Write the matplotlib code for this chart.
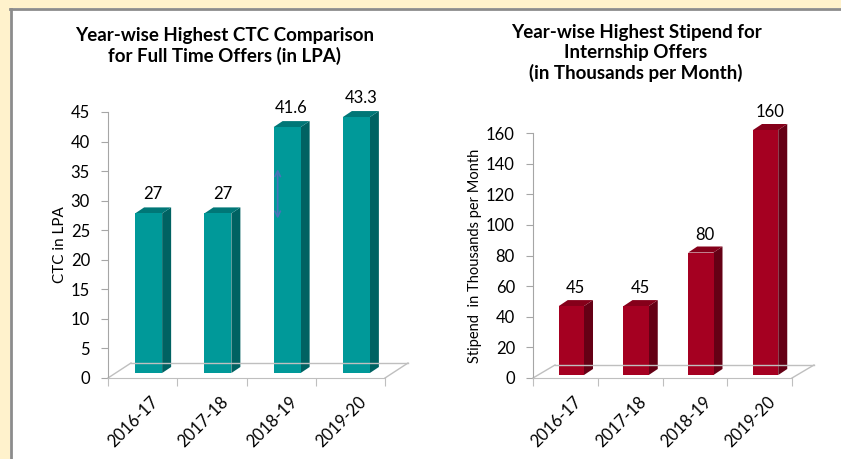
import matplotlib
matplotlib.use("Agg")
import matplotlib.pyplot as plt
from matplotlib.patches import Polygon, Rectangle
from matplotlib.transforms import offset_copy, ScaledTranslation
import numpy as np

plt.rcParams['font.family'] = ['Lato', 'DejaVu Sans']

years = ['2016-17', '2017-18', '2018-19', '2019-20']
ctc_values = [27, 27, 41.6, 43.3]
ctc_labels = ['27', '27', '41.6', '43.3']
stipend_values = [45, 45, 80, 160]
stipend_labels = ['45', '45', '80', '160']

W, H = 841, 459
fig = plt.figure(figsize=(W / 100, H / 100), dpi=100)
fig.patch.set_facecolor('white')

# yellow frame strips and grey border of the white panel
fig.add_artist(Rectangle((0, 1 - 8 / H), 1, 8 / H, transform=fig.transFigure,
                         facecolor='#FFF2CC', edgecolor='none'))
fig.add_artist(Rectangle((0, 0), 10 / W, 1, transform=fig.transFigure,
                         facecolor='#FFF2CC', edgecolor='none'))
fig.add_artist(plt.Line2D([10 / W, 1], [1 - 9 / H, 1 - 9 / H], transform=fig.transFigure,
                          color='#8C8C8C', lw=2))
fig.add_artist(plt.Line2D([11 / W, 11 / W], [0, 1 - 9 / H], transform=fig.transFigure,
                          color='#8C8C8C', lw=2))


def bar3d(ax, values, labels, ymax, ystep, front, side, top, ylabel, ylabel_size,
          front_off, depth, floor_depth, label_dy):
    n = len(values)
    w = 0.39
    ax.set_xlim(-0.5, n - 0.5)
    ax.set_ylim(0, ymax)
    fx, fy = front_off
    dx, dy = depth
    tf = offset_copy(ax.transData, fig, x=fx, y=fy, units='dots')
    tb = offset_copy(ax.transData, fig, x=fx + dx, y=fy + dy, units='dots')

    # floor
    tfl = offset_copy(ax.transData, fig, x=floor_depth[0], y=floor_depth[1], units='dots')
    x0, x1 = -0.5, n - 0.5
    for (a, b, t1, t2) in [((x0, 0), (x0, 0), ax.transData, tfl),
                           ((x1, 0), (x1, 0), ax.transData, tfl),
                           ((x0, 0), (x1, 0), tfl, tfl)]:
        p1 = t1.transform(a)
        p2 = t2.transform(b)
        ax.add_artist(plt.Line2D([p1[0], p2[0]], [p1[1], p2[1]], transform=None,
                                 color='#BFBFBF', lw=1, clip_on=False))

    for i, v in enumerate(values):
        xl, xr = i - w / 2, i + w / 2
        # side face
        pts = [tf.transform((xr, 0)), tb.transform((xr, 0)),
               tb.transform((xr, v)), tf.transform((xr, v))]
        ax.add_patch(Polygon(pts, closed=True, transform=None, facecolor=side,
                             edgecolor='none', clip_on=False))
        # top face
        pts = [tf.transform((xl, v)), tf.transform((xr, v)),
               tb.transform((xr, v)), tb.transform((xl, v))]
        ax.add_patch(Polygon(pts, closed=True, transform=None, facecolor=top,
                             edgecolor='none', clip_on=False))
        # front face
        ax.add_patch(Rectangle((xl, 0), w, v, transform=tf, facecolor=front,
                               edgecolor='none', clip_on=False))
        tl = offset_copy(ax.transData, fig, x=fx + dx / 2, y=label_dy, units='dots')
        ax.text(i, v, labels[i], transform=tl, ha='center', va='baseline',
                fontsize=12, color='black')

    for s in ['top', 'right']:
        ax.spines[s].set_visible(False)
    ax.spines['left'].set_color('#A6A6A6')
    ax.spines['bottom'].set_color('#BFBFBF')
    ax.set_yticks(np.arange(0, ymax + 1, ystep))
    ax.tick_params(axis='y', length=5, color='#A6A6A6', labelsize=12, pad=8)
    ax.set_xticks(np.arange(-0.5, n, 1.0))
    ax.set_xticklabels([])
    ax.tick_params(axis='x', which='major', length=6, color='#BFBFBF')
    ax.set_xticks(np.arange(n), minor=True)
    ax.set_xticklabels(years, minor=True, rotation=45, ha='right', va='top',
                       rotation_mode='anchor', fontsize=12)
    ax.tick_params(axis='x', which='minor', length=0, pad=11)
    shift = ScaledTranslation(8 / 100, 0, fig.dpi_scale_trans)
    for lbl in ax.get_xticklabels(minor=True):
        lbl.set_transform(lbl.get_transform() + shift)
    ax.set_ylabel(ylabel, fontsize=ylabel_size, labelpad=3)
    ax.set_facecolor('none')


ax1 = fig.add_axes([108 / W, (H - 378) / H, 277 / W, 266 / H])
bar3d(ax1, ctc_values, ctc_labels, 45, 5, '#009999', '#006262', '#007777',
      'CTC in LPA', 11, (6, 5), (9, 6), (23, 15), 19)
ax1.annotate('', xy=(1.95, 26.5), xytext=(1.95, 35.8), zorder=6,
             arrowprops=dict(arrowstyle='<->', color='#4A72B8', lw=1.2))
fig.text(225 / W, 1 - 27 / H, 'Year-wise Highest CTC Comparison\nfor Full Time Offers (in LPA)',
         ha='center', va='top', fontsize=13.5, fontweight='bold', linespacing=1.2)

ax2 = fig.add_axes([533 / W, (H - 378) / H, 259 / W, 245 / H])
bar3d(ax2, stipend_values, stipend_labels, 160, 20, '#A50021', '#650015', '#85001A',
      'Stipend  in Thousands per Month', 10.5, (6, 3), (9, 6), (22, 13), 16)
fig.text(636 / W, 1 - 24 / H,
         'Year-wise Highest Stipend for\nInternship Offers\n(in Thousands per Month)',
         ha='center', va='top', fontsize=13.5, fontweight='bold', linespacing=1.2)

fig.savefig('out.png', dpi=100)
